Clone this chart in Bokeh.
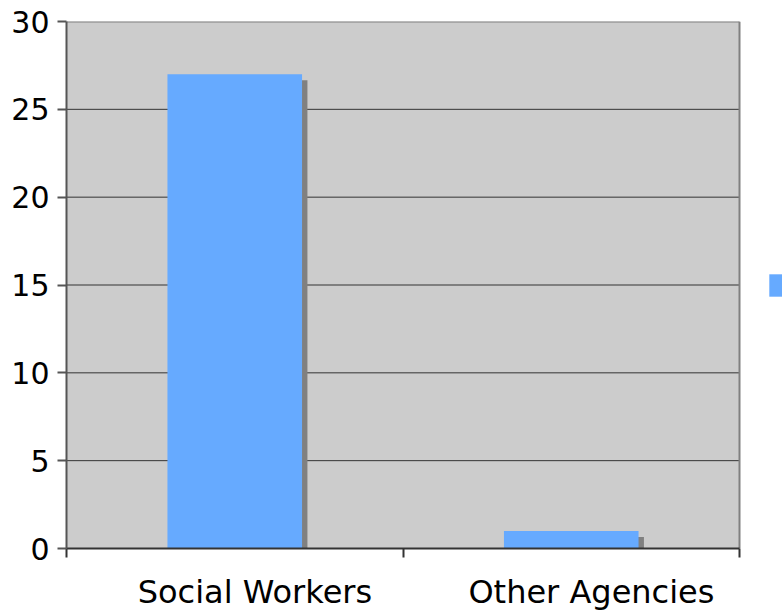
from bokeh.plotting import figure
from bokeh.models import Range1d, FixedTicker, Legend, LegendItem, ColumnDataSource
from bokeh.transform import dodge
from bokeh.embed import file_html
from bokeh.resources import INLINE

categories = ["Social Workers", "Other Agencies"]
values = [27, 1]
y_ticks = [0, 5, 10, 15, 20, 25, 30]
y_max = 30

n = len(categories)
xs = [i + 0.5 for i in range(n)]
shadow_drop = 0.34
src = ColumnDataSource(dict(x=xs, top=values, stop=[v - shadow_drop for v in values], cat=categories))

# frame spans to the right edge of the page so the legend swatch can sit beside the plot area
W, H = 782, 613
left_px, area_right_px = 66, 739
x_end = n * (W - left_px) / (area_right_px - left_px)

p = figure(width=W, height=H, output_backend="svg", toolbar_location=None,
           x_range=Range1d(0, x_end), y_range=Range1d(0, y_max),
           min_border_left=left_px, min_border_right=0, min_border_top=21, min_border_bottom=65)
p.background_fill_color = "white"
p.border_fill_color = "white"
p.outline_line_color = None

# plot area background
p.quad(left=[0], right=[n], bottom=[0], top=[y_max], fill_color="#cccccc", line_color=None)
# gridlines
inner = [t for t in y_ticks if 0 < t < y_max]
p.segment(x0=[0] * len(inner), x1=[n] * len(inner), y0=inner, y1=inner,
          line_color="#333333", line_width=1)
# top and right border of plot area
p.segment(x0=[0, n], x1=[n, n], y0=[y_max, 0], y1=[y_max, y_max],
          line_color="#808080", line_width=2)

# shadow
p.vbar(x=dodge("x", 0.016, range=p.x_range), top="stop", bottom=0, width=0.4, source=src,
       fill_color="#808080", line_color=None)
bars = p.vbar(x="x", top="top", bottom=0, width=0.4, source=src,
              fill_color="#66aaff", line_color=None)

# axes
label_shift = 0.06
label_pos = [x + label_shift for x in xs]
p.xaxis.bounds = (0, n)
p.xaxis.ticker = FixedTicker(ticks=label_pos, minor_ticks=list(range(n + 1)))
p.xaxis.major_label_overrides = {x: c for x, c in zip(label_pos, categories)}
p.xaxis.major_tick_out = 0
p.xaxis.major_tick_in = 0
p.xaxis.minor_tick_out = 9
p.xaxis.minor_tick_in = 0
p.xaxis.minor_tick_line_color = "#333333"
p.xaxis.minor_tick_line_width = 2
p.xaxis.axis_line_color = "#333333"
p.xaxis.axis_line_width = 2
p.xaxis.major_label_text_font = "DejaVu Sans"
p.xaxis.major_label_text_font_size = "32px"
p.xaxis.major_label_text_color = "black"
p.xaxis.major_label_standoff = 15

p.yaxis.ticker = FixedTicker(ticks=y_ticks, minor_ticks=[])
p.yaxis.major_tick_out = 9
p.yaxis.major_tick_in = 0
p.yaxis.major_tick_line_color = "#555555"
p.yaxis.major_tick_line_width = 2
p.yaxis.axis_line_color = "#555555"
p.yaxis.axis_line_width = 2
p.yaxis.major_label_text_font = "DejaVu Sans"
p.yaxis.major_label_text_font_size = "30px"
p.yaxis.major_label_text_color = "black"
p.yaxis.major_label_standoff = 8

p.xgrid.visible = False
p.ygrid.visible = False

legend = Legend(items=[LegendItem(label="\u00a0", renderers=[bars])], location=(700, 249),
                glyph_width=28, glyph_height=28, padding=0, margin=0, spacing=0,
                label_text_font_size="2px", label_standoff=0,
                border_line_alpha=0, background_fill_alpha=0)
p.add_layout(legend, "center")

open("out.html", "w").write(file_html(p, INLINE))
